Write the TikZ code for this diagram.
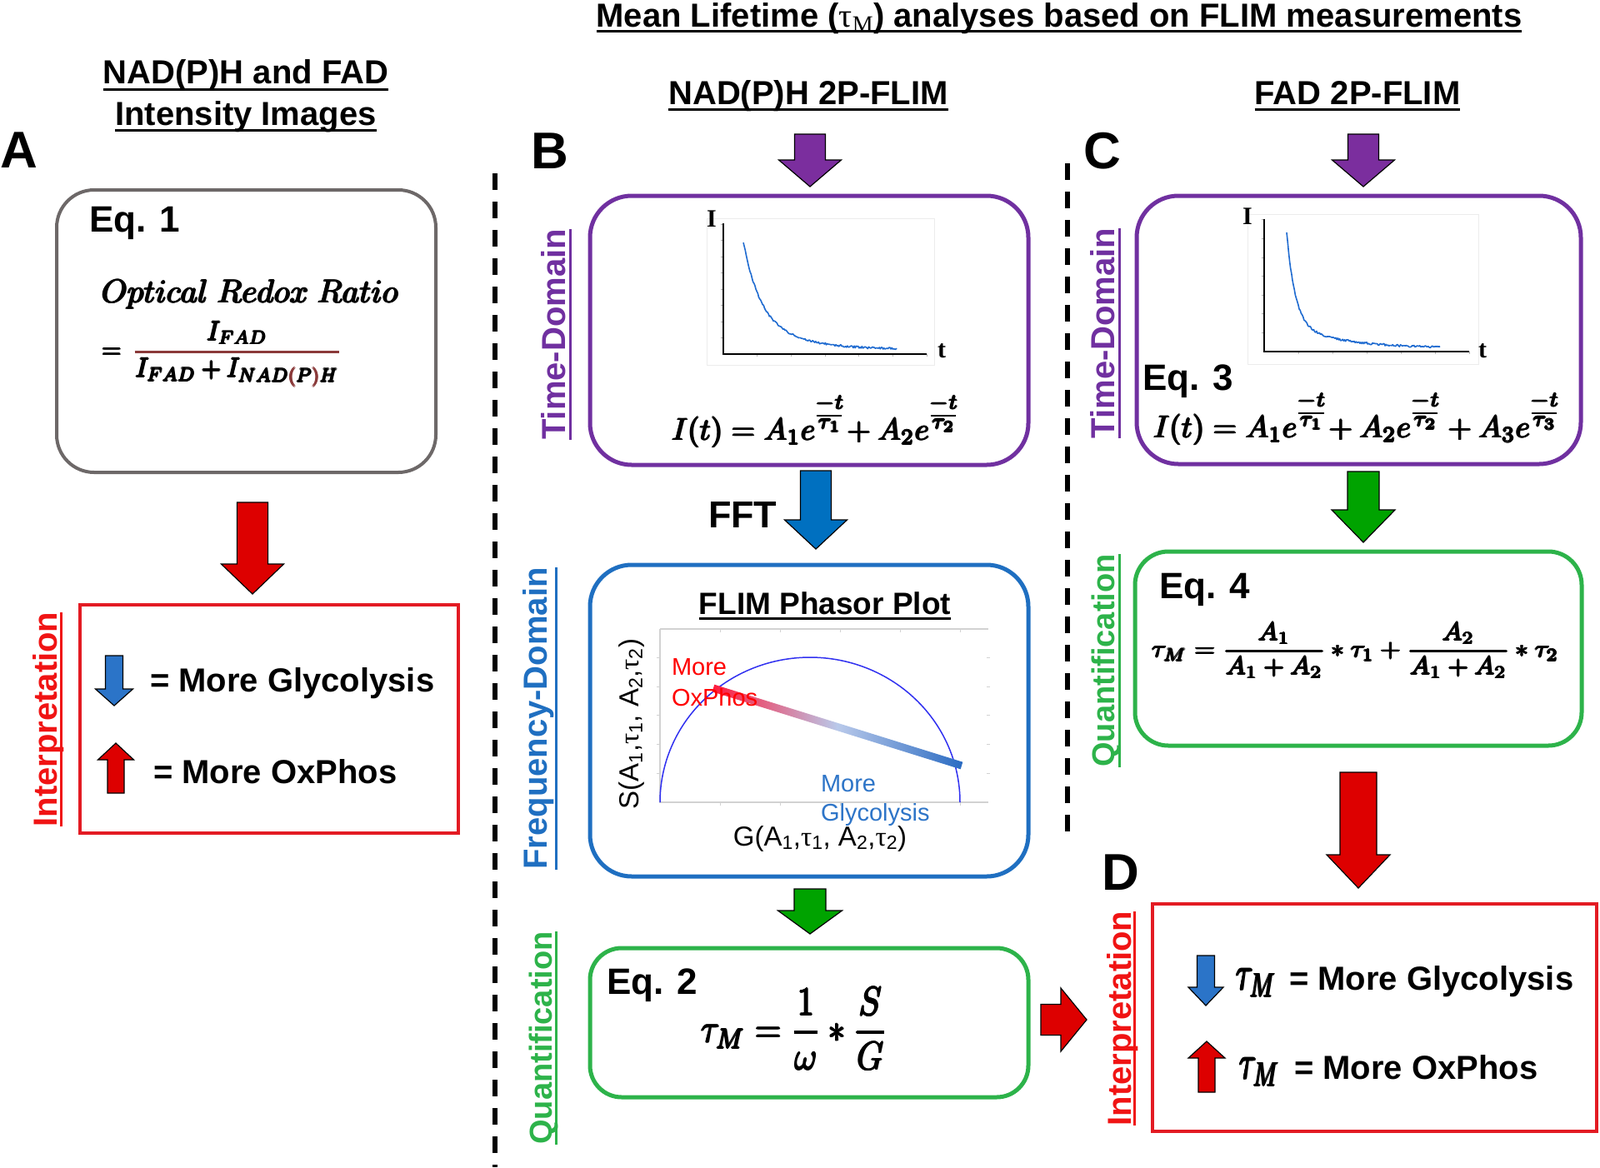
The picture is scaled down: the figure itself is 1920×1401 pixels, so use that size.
\RequirePackage{fix-cm}
\documentclass[tikz,border=0pt]{standalone}
\usepackage{amsmath}
\usepackage[no-math]{fontspec}
\setmainfont{Liberation Sans}
\newfontfamily\serf{Liberation Serif}
\usetikzlibrary{calc}
\newcommand\fs[1]{\fontsize{#1}{#1}\selectfont}
\definecolor{cpurple}{HTML}{7030A0}
\definecolor{cblue}{HTML}{1F6FC1}
\definecolor{cgreen}{HTML}{2DB34A}
\definecolor{cred}{HTML}{E31B23}
\definecolor{tred}{HTML}{F01414}
\definecolor{cgray}{HTML}{6D6868}
\definecolor{arrred}{HTML}{DD0000}
\definecolor{arrgreen}{HTML}{00A300}
\definecolor{arrblue}{HTML}{0070C0}
\definecolor{arrpurple}{HTML}{7B2E9E}
\definecolor{smblue}{HTML}{2B74C8}
\definecolor{curveblue}{HTML}{1F6BD0}
\definecolor{glyblue}{HTML}{2E75C8}
\definecolor{semiblue}{HTML}{3030F0}
\definecolor{parbrown}{HTML}{8B3A3A}
\definecolor{barred}{HTML}{FF1A3C}
\definecolor{barmid}{HTML}{B9C9EA}
\definecolor{barblue}{HTML}{2A6BC2}
% vertical block arrow: color, cx, shaft end, head base, tip, shaft half width, head half width
\newcommand\VArr[7]{\filldraw[fill=#1, draw=black, line width=1.2pt, line join=miter]
 ({#2-#6},#3) -- ({#2+#6},#3) -- ({#2+#6},#4) -- ({#2+#7},#4) -- (#2,#5) -- ({#2-#7},#4) -- ({#2-#6},#4) -- cycle;}
% horizontal block arrow: color, cy, shaft end, head base, tip, shaft half width, head half width
\newcommand\HArr[7]{\filldraw[fill=#1, draw=black, line width=1.2pt, line join=miter]
 (#3,{#2-#6}) -- (#4,{#2-#6}) -- (#4,{#2-#7}) -- (#5,#2) -- (#4,{#2+#7}) -- (#4,{#2+#6}) -- (#3,{#2+#6}) -- cycle;}
\newcommand\tauS[1]{{\serf τ}\textsubscript{#1}}
% fake bold by overprinting
\newcommand\FB[1]{\leavevmode\rlap{#1}\rlap{\kern0.7pt\raisebox{0.8pt}{#1}}\rlap{\kern0.7pt\raisebox{-0.8pt}{#1}}\rlap{\kern1.4pt\raisebox{0.8pt}{#1}}\rlap{\kern1.4pt\raisebox{-0.8pt}{#1}}\kern2.1pt#1}
% exponent: -t over a bar over tau_i
\newcommand\ex[1]{e^{\overset{\scriptstyle -t}{\overline{\tau_{#1}}}}}
\begin{document}
\begin{tikzpicture}[x=1pt,y=-1pt,
  every node/.style={inner sep=0pt,outer sep=0pt},
  hdr/.style={font=\fs{40}\bfseries, anchor=base},
  vlab/.style={font=\fs{40}\bfseries, rotate=90, anchor=base},
  panel/.style={font=\fs{62}\bfseries, anchor=base west},
  eqlab/.style={font=\fs{44}\bfseries, anchor=base west},
  legtxt/.style={font=\fs{40}\bfseries, anchor=base west},
  boxline/.style={draw, line width=5pt},
  sqbox/.style={draw=cred, line width=4pt},
  ul/.style={line width=3pt},
  dashline/.style={line width=6pt, dash pattern=on 20pt off 14pt},
  decay/.style={curveblue, line width=1.6pt, line join=round},
  faint/.style={gray!35, line width=1.5pt},
  plotlab/.style={font=\serf\bfseries\fs{30}}
]
\fill[white] (0,0) rectangle (1920,1401);
\useasboundingbox (0,0) rectangle (1920,1401);

% dashed separators
\draw[dashline] (594,208) -- (594,1401);
\draw[dashline] (1281,196) -- (1281,998);

% ---------------- headers ----------------
\node[hdr] (title) at (1271,32) {Mean Lifetime ({\serf\mdseries τ}\textsubscript{\serf\mdseries M}) analyses based on FLIM measurements};
\draw[ul] ([yshift=-5pt]title.base west) -- ([yshift=-5pt]title.base east);
\node[hdr] (hA1) at (295,100) {NAD(P)H and FAD};
\draw[ul] ([yshift=-7pt]hA1.base west) -- ([yshift=-7pt]hA1.base east);
\node[hdr] (hA2) at (295,150) {Intensity Images};
\draw[ul] ([yshift=-6pt]hA2.base west) -- ([yshift=-6pt]hA2.base east);
\node[hdr] (hB) at (970,125) {NAD(P)H 2P-FLIM};
\draw[ul] ([yshift=-6pt]hB.base west) -- ([yshift=-6pt]hB.base east);
\node[hdr] (hC) at (1629,125) {FAD 2P-FLIM};
\draw[ul] ([yshift=-6pt]hC.base west) -- ([yshift=-6pt]hC.base east);

\node[panel] (pA) at (1,201) {A};
\node[panel] (pB) at (637,202) {B};
\node[panel] (pC) at (1300,202) {C};
\node[panel] (pD) at (1322,1068) {D};

% ---------------- panel A ----------------
\node[boxline, draw=cgray, line width=4pt, rounded corners=45pt, minimum width=455pt, minimum height=339pt] (boxA) at (295.5,397.5) {};
\node[eqlab] (eq1lab) at (107,278) {Eq. 1};
\node[anchor=base] (eq1a) at (300,363) {\FB{\resizebox{356pt}{!}{$Optical\ Redox\ Ratio$}}};
\node[anchor=west] (eq1b) at (121,425) {\FB{\resizebox*{288pt}{78pt}{$=\,{\color{parbrown}\dfrac{\color{black}I_{FAD}}{\color{black}I_{FAD}+I_{NAD{\color{parbrown}(}P{\color{parbrown})}H}}}$}}};

\VArr{arrred}{303}{603}{677}{713}{18.5}{37.5}

\node[sqbox, minimum width=454pt, minimum height=274pt] (redA) at (323,863) {};
\node[vlab, text=tred] (intA) at (68,863.5) {Interpretation};
\draw[ul, tred] ([xshift=5pt]intA.base west) -- ([xshift=5pt]intA.base east);
\VArr{smblue}{137}{787}{827}{847}{10.5}{22.5}
\node[legtxt] (glyA) at (180,830) {= More Glycolysis};
\VArr{arrred}{139}{952}{912}{892}{10}{21.5}
\node[legtxt] (oxA) at (184,940) {= More OxPhos};

% ---------------- panel B ----------------
\VArr{arrpurple}{972}{161}{192}{224}{18.5}{37.5}
\node[boxline, draw=cpurple, rounded corners=50pt, minimum width=526pt, minimum height=323pt] (boxB1) at (971,396.5) {};
\node[vlab, text=cpurple] (tdB) at (678,401.5) {Time-Domain};
\draw[ul, cpurple] ([xshift=6pt]tdB.base west) -- ([xshift=6pt]tdB.base east);
% decay plot B
\draw[gray!15, line width=1pt] (848,262) rectangle (1121,438);
\foreach \k in {1,...,6} \draw[gray!60, line width=0.8pt] ({868+40.7*\k},425) -- ({868+40.7*\k},428);
\foreach \k in {1,...,8} \draw[gray!60, line width=0.8pt] (865,{425-19.5*\k}) -- (868,{425-19.5*\k});
\draw[black, line width=1.6pt] (868,268) -- (868,425) -- (1112,425);
\draw[decay] plot[domain=0:184, samples=160] ({892+\x},{425-(90*exp(-\x/20)+40*exp(-\x/55)+5)+1.3*rand});
\node[plotlab] (IB) at (854,263) {I};
\node[plotlab] (tB) at (1130,421) {t};
\node[anchor=base west] (eqB) at (805,528) {\FB{\resizebox{345pt}{!}{$I(t)=A_1\ex{1}\!+A_2\ex{2}$}}};

\VArr{arrblue}{979}{565}{624}{659}{18.5}{37.5}
\node[font=\fs{45}\bfseries, anchor=base west] (fft) at (850,633) {FFT};

\node[boxline, draw=cblue, rounded corners=50pt, minimum width=526pt, minimum height=374pt] (boxB2) at (971,865) {};
\node[vlab, text=cblue] (fdB) at (656,862.5) {Frequency-Domain};
\draw[ul, cblue] ([xshift=11pt]fdB.base west) -- ([xshift=11pt]fdB.base east);
\node[font=\fs{37}\bfseries, anchor=base] (fpp) at (990,737) {FLIM Phasor Plot};
\draw[ul] ([yshift=-5pt]fpp.base west) -- ([yshift=-5pt]fpp.base east);
% phasor frame
\draw[faint] (792,755) -- (1186,755);
\draw[faint] (792,755) -- (792,963) -- (1186,963);
\foreach \k in {1,...,5} \draw[gray!35, line width=1pt] ({792+72*\k},963) -- ({792+72*\k},967);
\foreach \k in {1,...,5} \draw[gray!35, line width=1pt] ({792+72*\k},755) -- ({792+72*\k},759);
\foreach \k in {1,...,5} \draw[gray!35, line width=1pt] (788,{963-34.7*\k}) -- (792,{963-34.7*\k});
\foreach \k in {1,...,5} \draw[gray!35, line width=1pt] (1184,{963-34.7*\k}) -- (1188,{963-34.7*\k});
\draw[semiblue, line width=1.5pt] plot[domain=0:180, samples=120] ({972-180*cos(\x)},{963-174*sin(\x)});
\shade[left color=barred, right color=barblue, middle color=barmid] (857.3,821.7) -- (1155.3,914.7) -- (1152.7,923.3) -- (854.7,830.3) -- cycle;
\node[font=\fs{29}, text=red, anchor=base west] (mo1) at (806,810) {More};
\node[font=\fs{29}, text=red, anchor=base west] (mo2) at (806,847) {OxPhos};
\node[font=\fs{29}, text=glyblue, anchor=base west] (mg1) at (985,950) {More};
\node[font=\fs{29}, text=glyblue, anchor=base west] (mg2) at (985,985) {Glycolysis};
\node[font=\fs{33}, anchor=base] (gx) at (984,1015) {G(A\textsubscript{1},\tauS{1}, A\textsubscript{2},\tauS{2})};
\node[font=\fs{33}, anchor=base, rotate=90] (sy) at (766,869) {S(A\textsubscript{1},\tauS{1}, A\textsubscript{2},\tauS{2})};

\VArr{arrgreen}{972}{1067}{1093}{1121}{19}{38.5}
\node[boxline, draw=cgreen, rounded corners=38pt, minimum width=526pt, minimum height=179pt] (boxB3) at (971,1227.5) {};
\node[vlab, font=\fs{38}\bfseries, text=cgreen] (qB) at (662,1246) {Quantification};
\draw[ul, cgreen] ([xshift=5pt]qB.base west) -- ([xshift=5pt]qB.base east);
\node[eqlab] (eq2lab) at (728,1193) {Eq. 2};
\node[anchor=west] (eq2) at (840,1235) {\FB{\resizebox*{224pt}{98pt}{$\displaystyle\tau_M=\frac{1}{\omega}*\frac{S}{G}$}}};

\HArr{arrred}{1224}{1249}{1273}{1304}{18.5}{38}

% ---------------- panel C ----------------
\VArr{arrpurple}{1636}{161}{192}{224}{18.5}{37.5}
\node[boxline, draw=cpurple, rounded corners=50pt, minimum width=533pt, minimum height=322pt] (boxC1) at (1630.5,396) {};
\node[vlab, text=cpurple] (tdC) at (1337,400) {Time-Domain};
\draw[ul, cpurple] ([xshift=6pt]tdC.base west) -- ([xshift=6pt]tdC.base east);
% decay plot C
\draw[gray!15, line width=1pt] (1497,257) rectangle (1774,437);
\foreach \k in {1,...,6} \draw[gray!60, line width=0.8pt] ({1517+41*\k},422) -- ({1517+41*\k},425);
\foreach \k in {1,...,7} \draw[gray!60, line width=0.8pt] (1514,{422-22.6*\k}) -- (1517,{422-22.6*\k});
\draw[black, line width=1.6pt] (1517,263) -- (1517,422) -- (1763,422);
\draw[decay] plot[domain=0:184, samples=160] ({1544+\x},{422-(110*exp(-\x/10)+30*exp(-\x/60)+4)+1.3*rand});
\node[plotlab] (IC) at (1497,260) {I};
\node[plotlab] (tC) at (1779,421) {t};
\node[eqlab] (eq3lab) at (1371,468) {Eq. 3};
\node[anchor=base west] (eqC) at (1383,525) {\FB{\resizebox{488pt}{!}{$I(t)=A_1\ex{1}\!+A_2\ex{2}+A_3\ex{3}$}}};

\VArr{arrgreen}{1636}{566}{612}{651}{19}{38}
\node[boxline, draw=cgreen, rounded corners=40pt, minimum width=536pt, minimum height=233pt] (boxC2) at (1630,778.5) {};
\node[vlab, font=\fs{38}\bfseries, text=cgreen] (qC) at (1337,793) {Quantification};
\draw[ul, cgreen] ([xshift=6pt]qC.base west) -- ([xshift=6pt]qC.base east);
\node[eqlab] (eq4lab) at (1391,718) {Eq. 4};
\node[anchor=west] (eq4) at (1381,781) {\FB{\resizebox*{488pt}{66pt}{$\displaystyle\tau_M=\frac{A_1}{A_1+A_2}*\tau_1+\frac{A_2}{A_1+A_2}*\tau_2$}}};

\VArr{arrred}{1630}{927}{1026}{1066}{22}{38}

% ---------------- panel D ----------------
\node[sqbox, minimum width=533pt, minimum height=273pt] (redD) at (1649.5,1221.5) {};
\node[vlab, text=tred] (intD) at (1357,1222.5) {Interpretation};
\draw[ul, tred] ([xshift=4pt]intD.base west) -- ([xshift=4pt]intD.base east);
\VArr{smblue}{1447}{1147}{1185}{1207}{10.5}{21}
\node[anchor=base west] (tauD1) at (1482,1188) {\FB{\resizebox*{49pt}{34pt}{$\tau_M$}}};
\node[legtxt] (glyD) at (1547,1188) {= More Glycolysis};
\VArr{arrred}{1448}{1311}{1270}{1250}{10}{22}
\node[anchor=base west] (tauD2) at (1486,1295) {\FB{\resizebox*{49pt}{34pt}{$\tau_M$}}};
\node[legtxt] (oxD) at (1553,1295) {= More OxPhos};
\end{tikzpicture}
\end{document}
